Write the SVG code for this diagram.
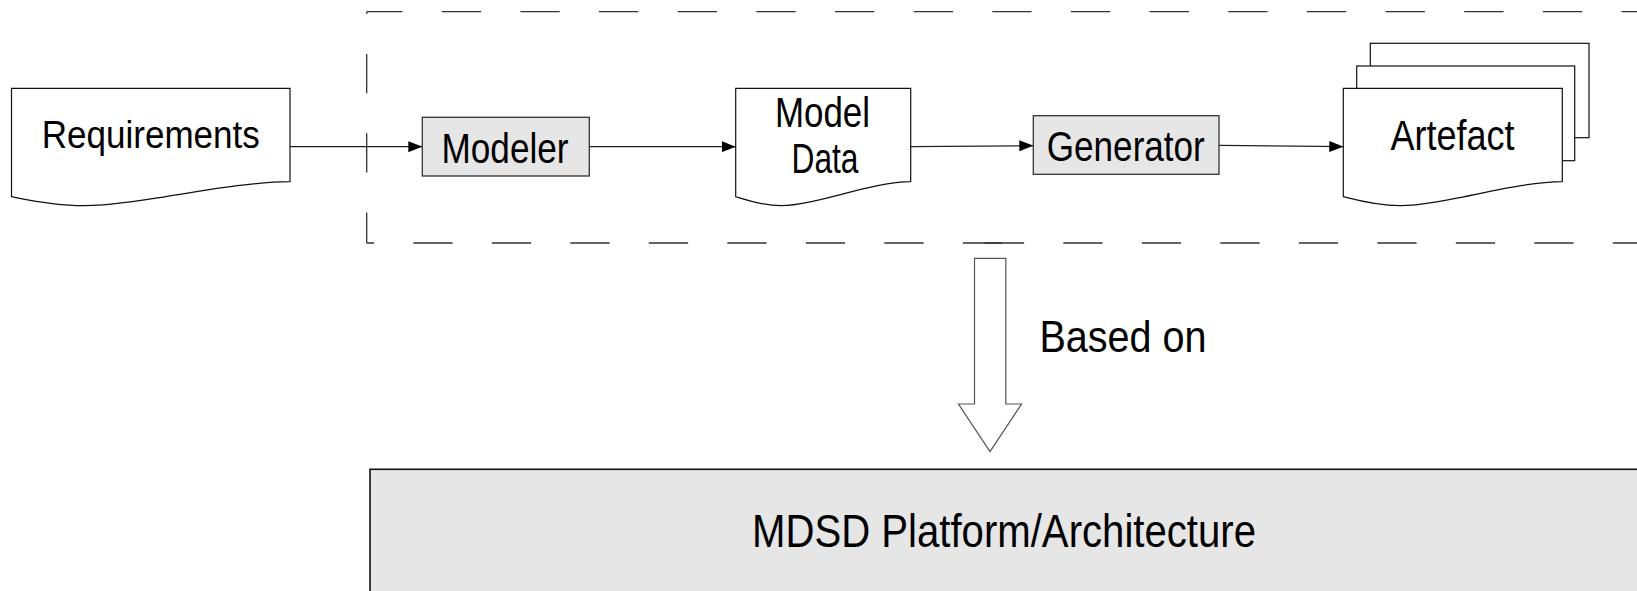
<svg xmlns="http://www.w3.org/2000/svg" width="1637" height="591" viewBox="0 0 1637 591">
<style>
  .doc { fill: #ffffff; stroke: #111111; stroke-width: 1.2; }
  .proc { fill: #e6e6e6; stroke: #333333; stroke-width: 1.3; }
  .plat { fill: #e6e6e6; stroke: #111111; stroke-width: 1.6; }
  .dash { stroke: #333333; stroke-width: 1.3; fill: none; }
  .conn { stroke: #222222; stroke-width: 1.2; fill: none; marker-end: url(#arr); }
  .block { fill: #ffffff; stroke: #555555; stroke-width: 1.2; }
  text { font-family: "Liberation Sans Narrow", "Liberation Sans", Arial, sans-serif; fill: #000000; text-anchor: middle; }
</style>
<defs>
  <marker id="arr" markerUnits="userSpaceOnUse" markerWidth="14" markerHeight="11" refX="14" refY="5.5" orient="auto">
    <path d="M0,0 L14,5.5 L0,11 Z" fill="#000000"/>
  </marker>
</defs>

<g id="boundary">
  <line class="dash" x1="366.7" y1="11.7" x2="1640" y2="11.7" stroke-dasharray="39.3 39.35" stroke-dashoffset="3.6"/>
  <line class="dash" x1="366.7" y1="11.7" x2="366.7" y2="243" stroke-dasharray="39.3 40" stroke-dashoffset="37"/>
  <line class="dash" x1="366.7" y1="243" x2="1003" y2="243" stroke-dasharray="39.3 39.2" stroke-dashoffset="31.9"/>
  <line class="dash" x1="984.8" y1="243" x2="1640" y2="243" stroke-dasharray="39.3 39.2"/>
</g>

<g id="connectors">
  <line class="conn" x1="290" y1="146.7" x2="422.3" y2="146.7"/>
  <line class="conn" x1="589.3" y1="146.7" x2="735.7" y2="146.7"/>
  <line class="conn" x1="910.7" y1="146.7" x2="1033.3" y2="145.7"/>
  <line class="conn" x1="1219" y1="145.3" x2="1343.3" y2="146.7"/>
</g>

<g id="requirements">
  <path class="doc" d="M11.5,88.3 H290 V181.7 C228.7,181.7 136.8,205.7 83.9,205.7 C53.3,205.7 25.4,199.5 11.5,196.7 Z"/>
  <text x="150.8" y="147.5" font-size="38" textLength="218" lengthAdjust="spacingAndGlyphs">Requirements</text>
</g>

<g id="modeler">
  <rect class="proc" x="422.3" y="117.3" width="167" height="58.7"/>
  <text x="505" y="162.7" font-size="43" textLength="127" lengthAdjust="spacingAndGlyphs">Modeler</text>
</g>

<g id="model-data">
  <path class="doc" d="M735.7,88.3 H910.7 V181.7 C872.2,181.7 814.5,205.7 781.2,205.7 C762,205.7 744.5,199.5 735.7,196.7 Z"/>
  <text x="822.5" y="126.7" font-size="43" textLength="95" lengthAdjust="spacingAndGlyphs">Model</text>
  <text x="825" y="173.3" font-size="43" textLength="67" lengthAdjust="spacingAndGlyphs">Data</text>
</g>

<g id="generator">
  <rect class="proc" x="1033.3" y="115.7" width="185.7" height="58.6"/>
  <text x="1125.8" y="161" font-size="43" textLength="158" lengthAdjust="spacingAndGlyphs">Generator</text>
</g>

<g id="artefact">
  <rect class="doc" x="1370.3" y="43.3" width="218.7" height="94.4"/>
  <rect class="doc" x="1356.7" y="66" width="218" height="94.7"/>
  <path class="doc" d="M1343.3,88.3 H1562.3 V181.7 C1514.1,181.7 1441.9,205.7 1400.2,205.7 C1376.2,205.7 1354.3,199.5 1343.3,196.7 Z"/>
  <text x="1452.5" y="150" font-size="42" textLength="124" lengthAdjust="spacingAndGlyphs">Artefact</text>
</g>

<g id="based-on">
  <path class="block" d="M974.5,258.3 H1005.8 V404 H1021.6 L990,451.7 L958.5,404 H974.5 Z"/>
  <text x="1123" y="351.5" font-size="44" textLength="167" lengthAdjust="spacingAndGlyphs">Based on</text>
</g>

<g id="platform">
  <rect class="plat" x="370" y="469.3" width="1300" height="140"/>
  <text x="1004" y="547" font-size="47" textLength="504" lengthAdjust="spacingAndGlyphs">MDSD Platform/Architecture</text>
</g>
</svg>
